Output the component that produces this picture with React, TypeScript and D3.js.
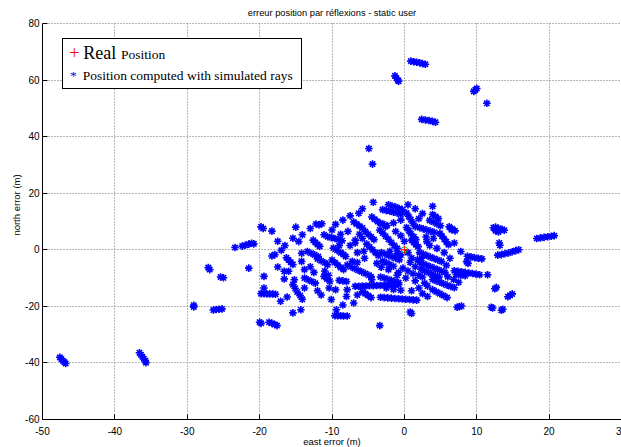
import * as d3 from "d3";

const W = 621;
const H = 447;

// tick values
const xTicks = [-50, -40, -30, -20, -10, 0, 10, 20, 30];
const yTicks = [-60, -40, -20, 0, 20, 40, 60, 80];

// real position (red +)
const realPosition: [number, number][] = [[0, 0]];

// positions computed with simulated rays (blue *)
const computedPositions: [number, number][] = [
  // far left outliers
  [-47.6, -38.0], [-47.4, -38.6], [-47.2, -39.2], [-47.0, -39.7], [-46.8, -40.2],
  [-36.6, -36.4], [-36.4, -37.1], [-36.2, -37.8], [-36.0, -38.5], [-35.8, -39.2], [-35.7, -39.9],
  [-29.1, -20.2], [-29.1, -19.6],
  [-26.4, -21.3], [-26.0, -21.1], [-25.6, -21.0], [-25.2, -20.9],
  [-27.1, -6.3], [-26.9, -7.0],
  [-25.4, -9.6], [-25.0, -9.9],
  [-23.4, 0.8], [-22.4, 1.3], [-22.0, 1.6],
  [-21.5, 2.0], [-21.1, 2.3], [-20.8, 2.1],
  [-21.5, -6.5],
  [-20.0, -25.6], [-19.8, -26.0],
  [-18.7, -25.6], [-18.3, -26.0], [-17.9, -26.4], [-17.6, -26.8],
  // upper outliers
  [-1.3, 61.5], [-1.1, 60.7], [-0.9, 60.0], [-0.8, 59.6],
  [0.9, 66.7], [1.3, 66.5], [1.7, 66.3], [2.1, 66.1], [2.5, 65.8], [2.9, 65.6],
  [2.4, 46.1], [2.9, 45.9], [3.4, 45.7], [3.9, 45.4], [4.3, 45.1],
  [9.6, 56.0], [9.8, 56.5], [10.0, 57.0],
  [11.4, 51.8],
  [-4.9, 35.8],
  [-4.4, 30.3],
  // right side
  [18.3, 4.0], [18.8, 4.2], [19.3, 4.4], [19.8, 4.6], [20.3, 4.8], [20.7, 5.0],
  [12.3, 7.8], [12.6, 8.0], [13.0, 7.6], [13.5, 7.2], [13.8, 6.9], [12.6, 6.7], [13.0, 6.3],
  [13.1, 2.4], [13.2, 1.6],
  [12.9, -1.9], [13.4, -1.7], [13.9, -1.4], [14.4, -1.1], [14.9, -0.7], [15.4, -0.3], [15.8, 0.0],
  [8.7, -2.3], [9.2, -2.5], [9.7, -2.8], [10.2, -3.0], [10.7, -3.2],
  [8.6, -4.2], [8.8, -4.8],
  [7.8, -0.6],
  [11.5, -8.8],
  [6.9, -7.4], [7.4, -7.6], [7.9, -7.8], [8.4, -8.0], [8.9, -8.2], [9.4, -8.4], [9.9, -8.6], [10.4, -8.8],
  [7.2, -8.8], [7.8, -9.0], [8.4, -9.2],
  [12.7, -13.3], [12.5, -13.8],
  [14.6, -16.1], [14.3, -16.6], [14.9, -15.6],
  [12.2, -20.6], [12.0, -20.3],
  [13.4, -21.4], [13.6, -21.0],
  [7.6, -20.1], [7.3, -20.3], [7.9, -19.9],
  [1.0, -22.5], [0.8, -22.0],
  [-3.4, -26.8],
  // upper middle
  [3.9, 15.4],
  [3.9, 12.5], [4.3, 11.8], [4.7, 11.0],
  [0.5, 15.9],
  [6.2, 8.1], [6.6, 7.4], [7.0, 6.7],
  [6.9, 2.4], [6.5, 7.1],
  [4.9, 5.8], [5.2, 4.8], [5.5, 3.8], [5.8, 2.8], [6.1, 1.8],
  [3.5, 10.4], [4.0, 9.8], [4.5, 9.1], [5.0, 8.5],
  [2.1, 7.8], [2.6, 7.4], [3.1, 7.0], [3.6, 6.6], [4.1, 6.2],
  [3.1, 2.9],
  [1.0, 3.4], [1.3, 2.6], [1.6, 1.8], [1.9, 1.1],
  [0.3, 13.0], [0.6, 11.8], [0.9, 10.6], [1.2, 9.4], [1.5, 8.2],
  [0.3, 7.9], [0.6, 6.8], [0.9, 5.7], [1.3, 4.6], [1.6, 3.6],
  [-3.0, 14.2], [-2.5, 13.9], [-2.0, 13.6], [-1.5, 13.3], [-1.0, 13.0], [-0.5, 12.6],
  [-2.2, 15.9], [-1.7, 15.5], [-1.2, 15.1], [-0.7, 14.6], [-0.3, 14.2],
  [-4.3, 16.8],
  [-6.3, 12.9],
  [-4.5, 11.6], [-4.1, 10.8], [-3.7, 10.0], [-3.3, 9.3],
  [-2.4, 8.6], [-3.0, 9.2], [-2.6, 8.2],
  [-7.0, 9.8], [-6.6, 9.1], [-6.2, 8.4], [-5.8, 7.7],
  [-3.4, 7.0], [-3.0, 5.9], [-2.6, 4.8], [-2.2, 3.7], [-1.8, 2.6], [-1.4, 1.5], [-1.0, 0.5],
  [-5.4, 6.5], [-5.0, 5.5], [-4.6, 4.6], [-4.2, 3.6], [-5.2, 2.0], [-4.8, 1.0], [-4.4, 0.0],
  [-4.0, -1.0], [-5.6, -0.5], [-3.6, -2.0], [-5.8, 4.0],
  [-6.8, 3.4], [-6.8, 2.4],
  [-10.6, 4.6], [-10.1, 4.3], [-9.6, 4.0], [-9.1, 3.6], [-8.6, 3.2],
  [-11.1, 5.3],
  [-12.6, 3.4], [-12.3, 2.6], [-12.0, 1.9], [-11.7, 1.2],
  [-11.8, 8.8], [-12.2, 9.1], [-11.4, 9.2],
  [0.0, 3.0], [-0.5, 5.0], [-1.2, 6.5], [-1.5, 9.5], [-0.5, 10.5], [2.0, 11.0], [2.5, 12.8], [1.5, 14.5],
  [-5.8, 14.5], [-7.5, 12.0], [-8.5, 10.5], [-9.5, 9.0], [-7.8, 6.5], [-8.8, 5.5], [-6.2, 5.5],
  [-7.5, 1.5], [-6.5, -1.0], [-5.5, -3.0], [-6.5, -4.5],
  [4.5, 0.5], [3.5, 1.5], [3.0, 4.5], [4.0, 4.0],
  // left part of the main cloud
  [-19.8, 8.1], [-19.5, 7.5],
  [-18.3, 6.6],
  [-14.1, 5.3], [-15.4, 4.1], [-14.6, 2.9],
  [-17.0, -0.2],
  [-18.3, -2.2], [-17.9, -1.7],
  [-16.3, -2.8], [-16.0, -3.6], [-15.7, -4.4], [-15.4, -5.2],
  [-14.2, -1.2], [-14.2, -4.1],
  [-13.4, -0.6], [-12.9, -1.2], [-12.4, -1.8], [-11.9, -2.4],
  [-12.0, -3.2], [-11.5, -3.9], [-11.0, -4.6], [-10.6, -5.3],
  [-9.8, 0.6], [-9.3, -0.2], [-8.8, -1.0], [-8.4, -1.7],
  [-10.0, -3.6], [-9.6, -4.5], [-9.2, -5.4], [-8.8, -6.3], [-8.4, -7.0],
  [-8.1, -2.4], [-7.2, -4.1],
  [-7.9, -5.4], [-7.4, -6.0], [-6.9, -6.6], [-6.4, -7.2], [-5.9, -7.8], [-5.4, -8.4], [-4.9, -9.0], [-4.6, -9.5],
  [-17.5, -6.1],
  [-16.6, -7.6], [-16.0, -7.6],
  [-19.4, -9.4],
  [-13.8, -7.0],
  [-15.2, -10.6], [-16.6, -10.3],
  [-13.8, -10.0], [-13.3, -10.6], [-12.8, -11.2], [-12.3, -11.8],
  [-13.8, -13.5], [-10.4, -13.5], [-9.5, -14.1],
  [-11.1, -9.4], [-10.7, -10.3], [-10.3, -11.1],
  [-15.4, -12.3], [-15.1, -13.6], [-14.8, -14.9], [-14.4, -16.2], [-14.1, -17.5],
  [-19.4, -13.5],
  [-19.8, -15.5], [-19.4, -15.5], [-19.0, -15.6], [-18.6, -15.6], [-18.2, -15.6], [-17.8, -15.7],
  [-16.2, -16.7], [-17.1, -18.2],
  [-15.4, -22.3], [-14.3, -21.2],
  [-10.1, -17.6],
  [-9.6, -23.3], [-9.2, -23.3], [-8.8, -23.3], [-8.4, -23.4], [-7.9, -23.4],
  [-9.4, -21.2],
  [-7.0, -18.8], [-7.9, -14.1],
  [-9.0, -10.8], [-8.5, -11.0], [-8.0, -11.2],
  [-13.0, -6.0], [-12.5, -8.0], [-11.0, -7.5], [-10.5, -9.0], [-12.0, -14.5], [-11.5, -16.0],
  [-13.0, 7.5], [-10.0, 7.0], [-9.0, 1.5], [-16.5, 1.5], [-17.5, 3.0], [-15.0, 8.0],
  [-8.0, -16.5], [-6.5, -16.0], [-8.5, -19.5],
  // lower middle streaks
  [-6.8, -12.9], [-6.3, -12.9], [-5.8, -12.8], [-5.3, -12.8], [-4.8, -12.7], [-4.3, -12.7], [-3.8, -12.6],
  [-3.3, -12.6], [-2.8, -12.5], [-2.3, -12.5], [-1.8, -12.4], [-1.3, -12.4], [-0.8, -12.3],
  [-5.8, -14.8], [-5.4, -15.5], [-5.0, -16.2], [-4.6, -16.9],
  [-3.3, -16.8], [-2.8, -16.9], [-2.3, -17.0], [-1.8, -17.1], [-1.3, -17.2], [-0.8, -17.3],
  [-0.3, -17.4], [0.2, -17.5], [0.7, -17.6], [1.2, -17.7], [1.7, -17.8],
  [-4.5, -10.6],
  [-3.3, -9.6], [-2.8, -10.0], [-2.3, -10.4], [-1.8, -10.8], [-1.3, -11.2], [-0.8, -11.6],
  [-2.5, -13.5], [-1.5, -14.0], [-0.5, -14.3],
  // dense centre
  [-3.2, -1.0], [-2.7, -1.5], [-2.2, -2.0], [-1.7, -2.5], [-1.2, -3.0], [-0.7, -3.5],
  [-3.0, -4.0], [-2.5, -4.6], [-2.0, -5.2], [-1.5, -5.8], [-0.5, -1.8],
  [1.0, -2.9],
  [2.1, -1.0], [2.6, -1.5], [3.1, -2.0], [3.6, -2.6], [4.1, -3.1], [4.6, -3.6], [5.1, -4.1],
  [2.1, -4.5], [2.6, -5.0], [3.1, -5.5], [3.6, -6.0], [4.1, -6.5], [4.6, -7.0], [5.1, -7.5], [5.6, -8.0],
  [2.3, -6.8], [2.8, -7.4], [3.3, -8.0], [3.8, -8.6], [4.3, -9.2], [4.8, -9.6], [2.0, -9.0], [2.5, -9.6],
  [3.9, -14.1], [4.4, -14.8], [4.9, -15.5], [5.4, -16.2], [5.9, -16.9],
  [3.9, -10.5], [4.4, -11.0], [4.9, -11.5], [5.4, -12.0], [5.9, -12.5], [6.4, -13.0], [6.9, -13.4],
  [1.8, -3.5], [2.4, -3.0],
  [-2.0, -0.5], [-1.0, -1.2], [0.5, -1.0], [0.8, -4.5], [1.5, -6.0], [0.5, -7.5], [1.2, -8.5],
  [-0.2, -6.5], [-0.8, -8.0], [-2.2, -7.0], [-3.2, -6.2], [-3.8, -4.8], [-1.0, -9.0], [0.2, -10.0],
  [1.5, -11.0], [2.8, -11.8], [3.2, -12.8], [2.0, -13.5], [1.0, -14.5], [2.5, -15.5], [3.2, -16.5],
  [5.8, -5.5], [6.3, -3.0], [5.5, -1.0], [6.8, -10.5], [7.5, -11.5], [6.0, -9.5],
];

const xScale = d3.scaleLinear().domain([-50, 30]).range([42.5, 621.5]);
const yScale = d3.scaleLinear().domain([-60, 80]).range([419.5, 23.5]);

const crisp = (v: number) => Math.round(v - 0.5) + 0.5;

const starPath = "M-3.8,0H3.8M0,-3.8V3.8M-2.7,-2.7L2.7,2.7M-2.7,2.7L2.7,-2.7";
const plusPath = "M-4,0H4M0,-4V4";

const sans = "'Liberation Sans', Arial, Helvetica, sans-serif";
const serif = "'Liberation Serif', 'Times New Roman', serif";

export default function App() {
  const left = crisp(xScale(-50));
  const bottom = crisp(yScale(-60));
  const top = crisp(yScale(80));

  return (
    <svg
      width={W}
      height={H}
      viewBox={`0 0 ${W} ${H}`}
      style={{ position: "absolute", left: 0, top: 0, background: "#fff" }}
    >
      <rect x={0} y={0} width={W} height={H} fill="#fff" />

      {/* grid */}
      <g className="grid" stroke="#6e6e6e" strokeWidth={1} strokeDasharray="1 2">
        {xTicks.filter((t) => t !== -50).map((t) => (
          <line key={"gx" + t} x1={crisp(xScale(t))} x2={crisp(xScale(t))} y1={top} y2={bottom} />
        ))}
        {yTicks.filter((t) => t !== -60).map((t) => (
          <line key={"gy" + t} x1={left} x2={W} y1={crisp(yScale(t))} y2={crisp(yScale(t))} />
        ))}
      </g>

      {/* computed positions */}
      <g className="computed" stroke="#0000ff" strokeWidth={1.6} fill="none">
        {computedPositions.map((d, i) => (
          <path key={i} d={starPath} transform={`translate(${xScale(d[0])},${yScale(d[1])})`} />
        ))}
      </g>

      {/* real position */}
      <g className="real">
        {realPosition.map((d, i) => (
          <g key={i} transform={`translate(${xScale(d[0])},${yScale(d[1])})`}>
            <circle r={3} fill="none" stroke="#00c000" strokeWidth={1} />
            <path d={plusPath} stroke="#ff0000" strokeWidth={1} />
          </g>
        ))}
      </g>

      {/* axes */}
      <g className="axes" stroke="#000" strokeWidth={1}>
        <line x1={left} x2={W} y1={bottom} y2={bottom} />
        <line x1={left} x2={left} y1={top} y2={bottom} />
        {xTicks.map((t) => (
          <line key={"tx" + t} x1={crisp(xScale(t))} x2={crisp(xScale(t))} y1={bottom} y2={bottom - 5} />
        ))}
        {yTicks.map((t) => (
          <line key={"ty" + t} x1={left} x2={left + 5} y1={crisp(yScale(t))} y2={crisp(yScale(t))} />
        ))}
      </g>

      <g className="tick-labels" fontFamily={sans} fontSize={10} fill="#000">
        {xTicks.map((t) => (
          <text key={"lx" + t} x={xScale(t)} y={435} textAnchor="middle">
            {t}
          </text>
        ))}
        {yTicks.map((t) => (
          <text key={"ly" + t} x={left - 3} y={yScale(t) + 3.5} textAnchor="end">
            {t}
          </text>
        ))}
      </g>

      {/* title and axis labels */}
      <text x={332} y={15.5} textAnchor="middle" fontFamily={sans} fontSize={9.3}>
        erreur position par réflexions - static user
      </text>
      <text x={332} y={445} textAnchor="middle" fontFamily={sans} fontSize={9.5}>
        east error (m)
      </text>
      <text
        transform={`translate(20,205) rotate(-90)`}
        textAnchor="middle"
        fontFamily={sans}
        fontSize={9.5}
      >
        north error (m)
      </text>

      {/* legend */}
      <g className="legend" fontFamily={serif}>
        <rect x={62.5} y={38.5} width={239} height={50} fill="#fff" stroke="#000" strokeWidth={1} />
        <text x={69.3} y={58.5} fontSize={18} fill="#ff0000">+</text>
        <text x={83.3} y={58.5} fontSize={18} fill="#000">Real</text>
        <text x={121} y={58.5} fontSize={13.5} fill="#000">Position</text>
        <text x={70} y={80} fontSize={13.5} fill="#0000ff">*</text>
        <text x={82.7} y={80} fontSize={13.5} fill="#000">Position computed with simulated rays</text>
      </g>
    </svg>
  );
}
